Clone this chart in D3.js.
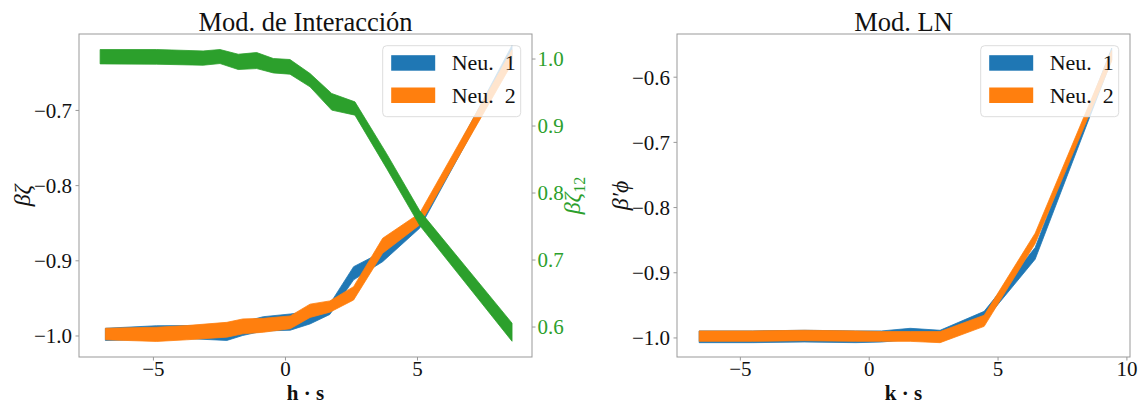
<!DOCTYPE html>
<html>
<head>
<meta charset="utf-8">
<script src="https://cdn.jsdelivr.net/npm/d3@7"></script>
<style>
  html, body { margin: 0; padding: 0; background: #fff; }
  svg text { font-family: "Liberation Serif", "DejaVu Serif", serif; white-space: pre; }
</style>
</head>
<body>
<svg id="chart" width="1139" height="405"></svg>
<script>
// ---------- Data (left panel: Mod. de Interacción) ----------
const xNeu = [-6.8, -4.86, -3.72, -2.2, -1.6, -0.82, 0.2, 0.95, 1.7, 2.6, 3.7, 5.1, 8.6];
const neu1Lo = [-1.0066, -1.005, -1.004, -1.0066, -1.0, -0.994, -0.993, -0.9846, -0.972, -0.926, -0.9018, -0.8574, -0.632];
const neu1Hi = [-0.9904, -0.987, -0.9868, -0.989, -0.982, -0.975, -0.9714, -0.968, -0.958, -0.9085, -0.8885, -0.8463, -0.614];
const neu2Lo = [-1.0057, -1.0079, -1.0057, -1.0022, -0.9978, -0.9957, -0.991, -0.976, -0.969, -0.9528, -0.8906, -0.853, -0.638];
const neu2Hi = [-0.9904, -0.989, -0.9868, -0.9825, -0.978, -0.9772, -0.974, -0.9583, -0.954, -0.935, -0.8707, -0.8374, -0.620];

const xZeta = [-7.0, -4.86, -3.1, -2.46, -1.77, -1.07, -0.44, 0.19, 0.95, 1.77, 2.65, 3.85, 5.1, 8.6];
const zetaLo = [0.992, 0.9915, 0.990, 0.9925, 0.9836, 0.985, 0.9785, 0.9766, 0.9577, 0.923, 0.9155, 0.836, 0.751, 0.578];
const zetaHi = [1.0134, 1.0134, 1.0113, 1.0134, 1.0064, 1.0089, 1.0, 0.9985, 0.9776, 0.9478, 0.9353, 0.858, 0.773, 0.605];

// ---------- Data (right panel: Mod. LN) ----------
const xLN = [-6.58, -4.5, -2.5, -0.5, 0.5, 1.61, 2.77, 4.48, 6.46, 9.43];
const ln1Lo = [-1.008, -1.008, -1.007, -1.008, -1.007, -1.003, -1.004, -0.975, -0.880, -0.574];
const ln1Hi = [-0.990, -0.990, -0.989, -0.990, -0.990, -0.986, -0.989, -0.960, -0.862, -0.556];
const ln2Lo = [-1.006, -1.006, -1.005, -1.006, -1.006, -1.006, -1.008, -0.983, -0.856, -0.576];
const ln2Hi = [-0.990, -0.990, -0.989, -0.990, -0.991, -0.991, -0.991, -0.966, -0.840, -0.560];

// ---------- Ticks ----------
const xTicksL = [-5, 0, 5];
const yTicksL = [-1.0, -0.9, -0.8, -0.7];
const yTicksG = [0.6, 0.7, 0.8, 0.9, 1.0];
const xTicksR = [-5, 0, 5, 10];
const yTicksR = [-1.0, -0.9, -0.8, -0.7, -0.6];
const legendLabels = ["Neu.  1", "Neu.  2"];

const C1 = "#1f77b4", C2 = "#ff7f0e", CG = "#2ca02c";
const SPINE = "#999999";

const svg = d3.select("#chart");
const fmtNum = (v, d) => (v < 0 ? "\u2212" : "") + Math.abs(v).toFixed(d);

function band(xs, lo, hi) { return xs.map((x, i) => ({ x, lo: lo[i], hi: hi[i] })); }

function panel(opts) {
  const { x0, x1, y0, y1, xDom, yDom, id } = opts;
  const x = d3.scaleLinear().domain(xDom).range([x0, x1]);
  const y = d3.scaleLinear().domain(yDom).range([y1, y0]);
  const g = svg.append("g");
  svg.append("clipPath").attr("id", id).append("rect")
    .attr("x", x0).attr("y", y0).attr("width", x1 - x0).attr("height", y1 - y0);
  return { x, y, g };
}

function drawBand(g, x, y, data, color, clip) {
  const area = d3.area().x(d => x(d.x)).y0(d => y(d.lo)).y1(d => y(d.hi));
  g.append("path").attr("d", area(data)).attr("fill", color)
    .attr("stroke", color).attr("stroke-width", 0.8).attr("clip-path", `url(#${clip})`);
}

function axes(g, x, y, xTicks, yTicks, x0, x1, y0, y1) {
  const xa = d3.axisBottom(x).tickValues(xTicks).tickSize(3.5).tickPadding(0.5)
    .tickFormat(v => fmtNum(v, 0));
  const ax = g.append("g").attr("transform", `translate(0,${y1})`).call(xa);
  ax.select(".domain").remove();
  ax.selectAll("line").attr("stroke", SPINE);
  ax.selectAll("text").attr("font-size", 21).attr("fill", "#111");
  const ya = d3.axisLeft(y).tickValues(yTicks).tickSize(3.5).tickPadding(3.5)
    .tickFormat(v => fmtNum(v, 1));
  const ay = g.append("g").attr("transform", `translate(${x0},0)`).call(ya);
  ay.select(".domain").remove();
  ay.selectAll("line").attr("stroke", SPINE);
  ay.selectAll("text").attr("font-size", 21).attr("fill", "#111").attr("dy", "0.35em");
  g.append("rect").attr("x", x0).attr("y", y0).attr("width", x1 - x0).attr("height", y1 - y0)
    .attr("fill", "none").attr("stroke", SPINE).attr("stroke-width", 1);
}

function legend(g, lx, ly) {
  g.append("rect").attr("x", lx).attr("y", ly).attr("width", 138).attr("height", 71)
    .attr("rx", 4).attr("fill", "#fff").attr("fill-opacity", 0.8)
    .attr("stroke", "#dddddd").attr("stroke-width", 1);
  [C1, C2].forEach((c, i) => {
    g.append("rect").attr("x", lx + 8.5).attr("y", ly + 9.5 + i * 32.3)
      .attr("width", 44).attr("height", 15.5).attr("fill", c);
    g.append("text").attr("x", lx + 69).attr("y", ly + 24.5 + i * 32.3)
      .attr("font-size", 22).attr("fill", "#111").text(legendLabels[i]);
  });
}

// ---------- Left panel ----------
const L = { x0: 79, x1: 532, y0: 34, y1: 357 };
const pL = panel({ ...L, xDom: [-7.80, 9.356], yDom: [-1.0286, -0.599], id: "clipL" });
const yG = d3.scaleLinear().domain([0.5545, 1.0366]).range([L.y1, L.y0]);
drawBand(pL.g, pL.x, pL.y, band(xNeu, neu1Lo, neu1Hi), C1, "clipL");
drawBand(pL.g, pL.x, pL.y, band(xNeu, neu2Lo, neu2Hi), C2, "clipL");
axes(pL.g, pL.x, pL.y, xTicksL, yTicksL, L.x0, L.x1, L.y0, L.y1);
legend(pL.g, 382.7, 45.7);
drawBand(pL.g, pL.x, yG, band(xZeta, zetaLo, zetaHi), CG, "clipL");
// right (green) axis
const ga = d3.axisRight(yG).tickValues(yTicksG).tickSize(3.5).tickPadding(2)
  .tickFormat(v => v.toFixed(1));
const agg = pL.g.append("g").attr("transform", `translate(${L.x1},0)`).call(ga);
agg.select(".domain").remove();
agg.selectAll("line").attr("stroke", SPINE);
agg.selectAll("text").attr("font-size", 21).attr("fill", CG).attr("dy", "0.35em");

// titles & labels
svg.append("text").attr("x", (L.x0 + L.x1) / 2).attr("y", 31).attr("text-anchor", "middle")
  .attr("font-size", 26.5).attr("fill", "#111").text("Mod. de Interacción");
svg.append("text").attr("x", (L.x0 + L.x1) / 2).attr("y", 399.5).attr("text-anchor", "middle")
  .attr("font-size", 21).attr("font-weight", "bold").attr("fill", "#111").text("h \u00B7 s");
const yl1 = svg.append("text").attr("transform", `translate(30,${(L.y0 + L.y1) / 2}) rotate(-90)`)
  .attr("text-anchor", "middle").attr("font-size", 24).attr("font-style", "italic").attr("fill", "#111");
yl1.text("\u03B2\u03B6");
const yl2 = svg.append("text").attr("transform", `translate(580,${(L.y0 + L.y1) / 2}) rotate(-90)`)
  .attr("text-anchor", "middle").attr("font-size", 24).attr("fill", CG);
yl2.append("tspan").attr("font-style", "italic").text("\u03B2\u03B6");
yl2.append("tspan").attr("font-size", 16).attr("dy", 5).text("12");

// ---------- Right panel ----------
const R = { x0: 677, x1: 1130, y0: 34, y1: 357 };
const pR = panel({ ...R, xDom: [-7.44, 10.14], yDom: [-1.030, -0.5345], id: "clipR" });
drawBand(pR.g, pR.x, pR.y, band(xLN, ln1Lo, ln1Hi), C1, "clipR");
drawBand(pR.g, pR.x, pR.y, band(xLN, ln2Lo, ln2Hi), C2, "clipR");
axes(pR.g, pR.x, pR.y, xTicksR, yTicksR, R.x0, R.x1, R.y0, R.y1);
legend(pR.g, 980.7, 45.7);
svg.append("text").attr("x", (R.x0 + R.x1) / 2).attr("y", 31).attr("text-anchor", "middle")
  .attr("font-size", 26.5).attr("fill", "#111").text("Mod. LN");
svg.append("text").attr("x", (R.x0 + R.x1) / 2).attr("y", 399.5).attr("text-anchor", "middle")
  .attr("font-size", 21).attr("font-weight", "bold").attr("fill", "#111").text("k \u00B7 s");
svg.append("text").attr("transform", `translate(628,${(R.y0 + R.y1) / 2}) rotate(-90)`)
  .attr("text-anchor", "middle").attr("font-size", 24).attr("font-style", "italic").attr("fill", "#111")
  .text("\u03B2\u2032\u03D5");
</script>
</body>
</html>
